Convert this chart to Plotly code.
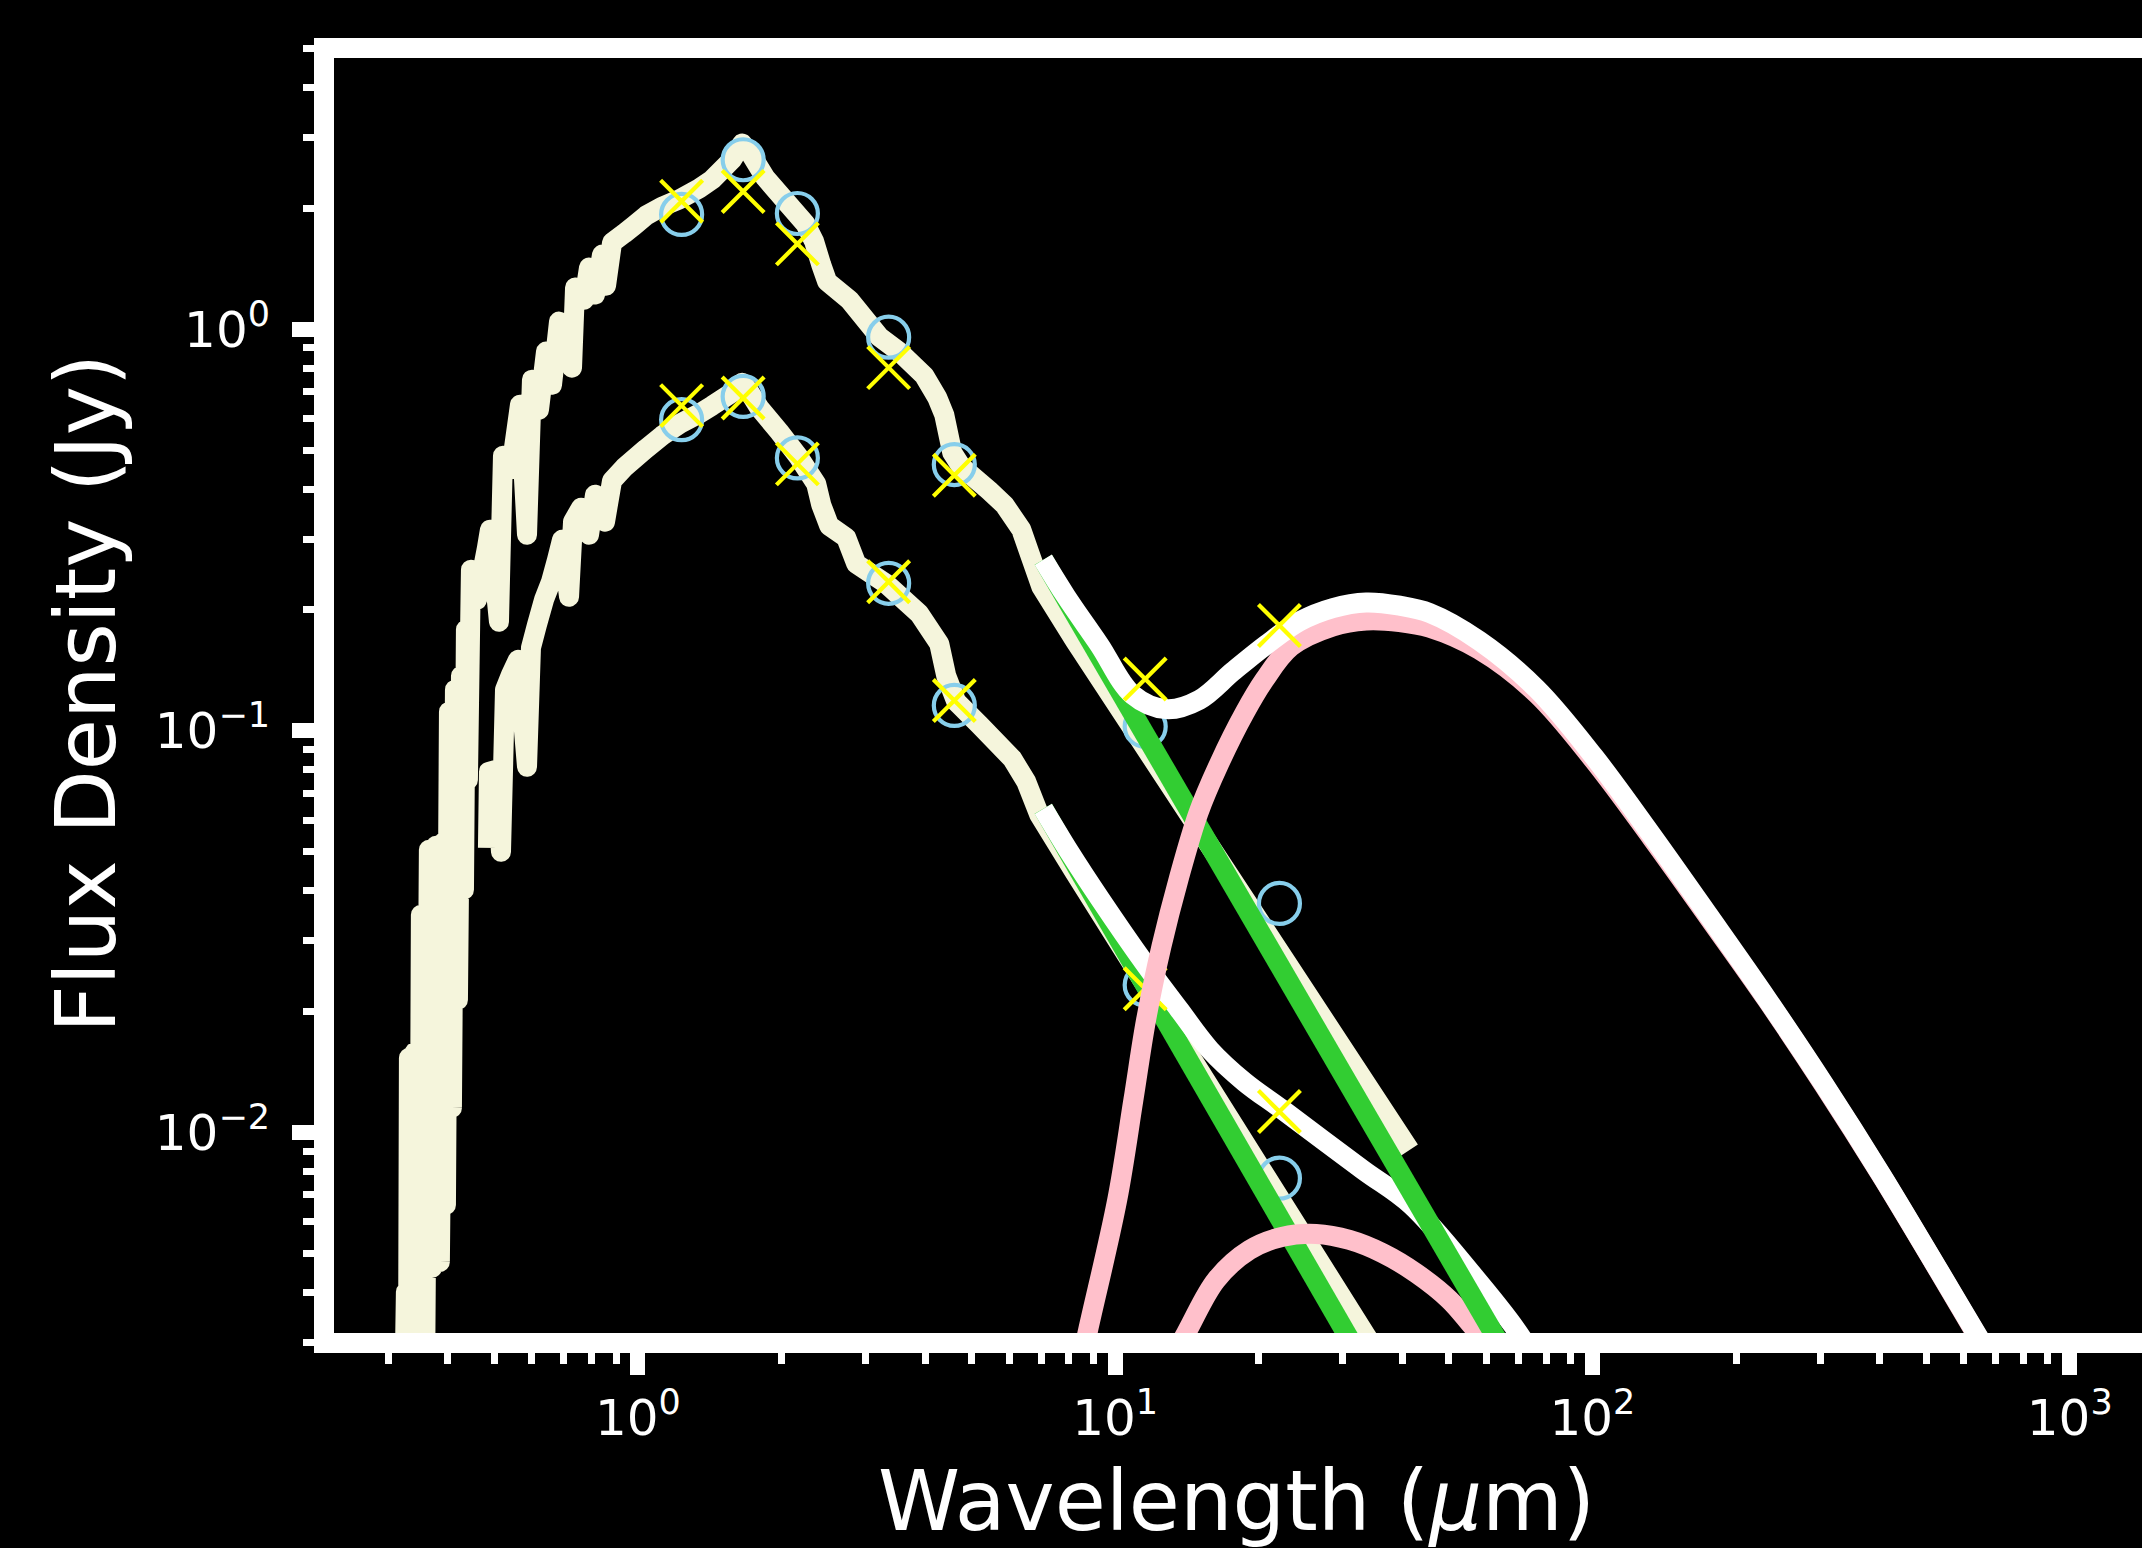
import numpy as np
import plotly.graph_objects as go

# ---------------- data (wavelength in micron, flux density in Jy) ----------------
# photometric bands: 2MASS J, H, Ks and WISE W1..W4
band_wl = [1.235, 1.662, 2.159, 3.353, 4.603, 11.56, 22.09]

# upper source
up_obs = [1.93, 2.64, 1.94, 0.955, 0.46, 0.1026, 0.0372]
up_mod = [2.08, 2.20, 1.63, 0.802, 0.433, 0.1346, 0.183]
# lower source
lo_obs = [0.595, 0.68, 0.478, 0.233, 0.1157, 0.0233, 0.0077]
lo_mod = [0.645, 0.674, 0.462, 0.235, 0.119, 0.0228, 0.01128]

# stellar model spectra
up_spec_wl = [0.3235, 0.3266, 0.3298, 0.3314, 0.3362, 0.3411, 0.3478, 0.3511, 0.3580, 0.3649,
              0.3703, 0.3775, 0.3848, 0.3924, 0.3962, 0.4020, 0.4078, 0.4138, 0.4198, 0.4260,
              0.4322, 0.4363, 0.4405, 0.4470, 0.4602, 0.4829, 0.4899, 0.5117, 0.5217,
              0.5370, 0.5502, 0.5663, 0.5858, 0.6000, 0.6207, 0.6420, 0.6609, 0.6836, 0.7037,
              0.7279, 0.7386, 0.7714, 0.7901, 0.8133, 0.8413, 0.8577, 0.8829, 0.9355, 0.9818,
              1.0404, 1.1239, 1.2201, 1.3438, 1.4307, 1.5757, 1.6537, 1.7271, 1.8479, 2.0352,
              2.2415, 2.3412, 2.4216, 2.4929, 2.7723, 3.2036, 3.5285, 3.9811, 4.2386, 4.3843,
              4.5571, 4.7596, 5.4491, 5.8583, 6.3603, 6.6110, 7.0027, 8.2124, 41.38]
up_spec_f = [0.001926, 0.004012, 0.002160, 0.01535, 0.002160, 0.01588, 0.002160, 0.03484, 0.002160, 0.05058,
             0.004603, 0.05176, 0.004766, 0.05295, 0.006607, 0.1116, 0.01152, 0.1266, 0.02140, 0.1371,
             0.04022, 0.1786, 0.07553, 0.2519, 0.2121, 0.2858, 0.3168, 0.1869, 0.4842,
             0.4468, 0.5069, 0.6486, 0.3078, 0.7486, 0.6303, 0.8790, 0.7274, 1.044, 0.9416,
             0.8018, 1.269, 1.184, 1.423, 1.219, 1.533, 1.283, 1.642, 1.729, 1.810,
             1.917, 2.018, 2.101, 2.238, 2.356, 2.643, 2.897, 2.720, 2.384, 2.089,
             1.831, 1.652, 1.447, 1.313, 1.184, 0.9579, 0.8790, 0.7660, 0.6752, 0.6124,
             0.4926, 0.4546, 0.3962, 0.3656, 0.3168, 0.2777, 0.2285, 0.1686, 0.009056]

lo_spec_wl = [0.4852, 0.4876, 0.5044, 0.5167, 0.5268, 0.5422, 0.5609, 0.5858, 0.5971, 0.6147,
              0.6359, 0.6578, 0.6771, 0.6936, 0.7175, 0.7314, 0.7603, 0.7901, 0.8133, 0.8535,
              0.8829, 0.9355, 1.0404, 1.1239, 1.2260, 1.3438, 1.4307, 1.5757, 1.6537, 1.7105,
              1.7952, 1.9771, 2.1774, 2.3636, 2.4216, 2.5169, 2.7321, 2.8673, 3.3139, 3.8868,
              4.2799, 4.4271, 4.6461, 5.1923, 6.0885, 6.5143, 6.9355, 8.2124, 41.39]
lo_spec_f = [0.05117, 0.07910, 0.08001, 0.05000, 0.1266, 0.1379, 0.1503, 0.08140, 0.1610, 0.1837,
             0.2121, 0.2351, 0.2667, 0.2991, 0.2157, 0.3316, 0.3594, 0.3078, 0.3872, 0.3316,
             0.4195, 0.4520, 0.5040, 0.5430, 0.5817, 0.6160, 0.6449, 0.6948, 0.7358, 0.6988,
             0.6376, 0.5556, 0.4787, 0.4124, 0.3656, 0.3241, 0.3026, 0.2607, 0.2324, 0.1957,
             0.1648, 0.1371, 0.1182, 0.1036, 0.08522, 0.07469, 0.06181, 0.04458, 0.002099]

# Rayleigh-Jeans photosphere extensions
up_rj_wl = [7.071, 86.17]
up_rj_f = [0.2667, 0.001621]
lo_rj_wl = [7.071, 42.19]
lo_rj_f = [0.06397, 0.001621]

# dust blackbody components
up_dust_wl = [7.967, 8.778, 10.10, 10.92, 11.61, 12.50, 13.57, 14.94, 16.54, 18.66, 20.55, 23.38,
              28.58, 33.57, 39.43, 45.59, 57.90, 76.38, 100.8, 133.0, 175.4, 231.5, 305.3,
              402.9, 531.7, 636.4, 786.4]
up_dust_f = [0.001926, 0.003227, 0.006799, 0.01206, 0.01908, 0.02905, 0.04258, 0.06243, 0.08314,
             0.1107, 0.1340, 0.1622, 0.1820, 0.1883, 0.1866, 0.1806, 0.1592, 0.1237, 0.08425,
             0.05418, 0.03424, 0.02149, 0.01314, 0.00782, 0.00452, 0.00315, 0.00206]
lo_dust_wl = [11.80, 14.08, 16.28, 19.11, 22.45, 26.38, 30.97, 36.37, 42.74, 50.19, 56.16, 66.01]
lo_dust_f = [0.00216, 0.003166, 0.004297, 0.005104, 0.005508, 0.005594, 0.005405, 0.005008,
             0.004466, 0.003833, 0.003288, 0.00264]

# total (photosphere + dust)
up_tot_wl = [7.071, 7.890, 9.266, 10.88, 12.79, 15.01, 17.64, 20.72, 24.33, 28.58, 33.57, 39.43,
             45.59, 57.90, 76.38, 100.8, 133.0, 175.4, 231.5, 305.3, 402.9, 531.7, 636.4, 786.4]
up_tot_f = [0.2667, 0.2162, 0.1638, 0.1230, 0.1133, 0.1195, 0.1405, 0.1638, 0.1873, 0.2022,
            0.2088, 0.2049, 0.1965, 0.1676, 0.1273, 0.0862, 0.0551, 0.03464, 0.02162, 0.01322,
            0.00786, 0.00454, 0.00317, 0.00208]
lo_tot_wl = [7.071, 8.017, 9.328, 11.51, 13.63, 15.80, 18.66, 22.44, 33.07, 41.67, 56.52, 69.23, 79.39]
lo_tot_f = [0.06397, 0.04999, 0.03797, 0.02646, 0.02021, 0.01607, 0.01337, 0.01139, 0.008073,
            0.006607, 0.004379, 0.003227, 0.002493]

# axis ticks
x_major = [1, 10, 100, 1000]
x_major_text = ["10<sup>0</sup>", "10<sup>1</sup>", "10<sup>2</sup>", "10<sup>3</sup>"]
y_major = [0.01, 0.1, 1]
y_major_text = ["10<sup>\u22122</sup>", "10<sup>\u22121</sup>", "10<sup>0</sup>"]
x_minor = [0.3, 0.4, 0.5, 0.6, 0.7, 0.8, 0.9, 2, 3, 4, 5, 6, 7, 8, 9,
           20, 30, 40, 50, 60, 70, 80, 90, 200, 300, 400, 500, 600, 700, 800, 900]
y_minor = [0.003, 0.004, 0.005, 0.006, 0.007, 0.008, 0.009, 0.02, 0.03, 0.04, 0.05, 0.06,
           0.07, 0.08, 0.09, 0.2, 0.3, 0.4, 0.5, 0.6, 0.7, 0.8, 0.9, 2, 3, 4, 5]

# ---------------- styling ----------------
BEIGE = "#F5F5DC"
GREEN = "#32CD32"
PINK = "#FFC0CB"
WHITE = "#FFFFFF"
SKY = "#87CEEB"
YELLOW = "#FFFF00"
LW = 20
FONT = "DejaVu Sans"

W, H = 2142, 1548
ML, MT, MB = 324, 48, 205

fig = go.Figure()


def add_source(spec_wl, spec_f, obs, rj_wl, rj_f, dust_wl, dust_f, tot_wl, tot_f, mod):
    fig.add_trace(go.Scatter(x=spec_wl, y=spec_f, mode="lines",
                             line=dict(color=BEIGE, width=LW, simplify=False)))
    fig.add_trace(go.Scatter(x=band_wl, y=obs, mode="markers",
                             marker=dict(symbol="circle-open", size=41, color=SKY,
                                         line=dict(color=SKY, width=4.2))))
    fig.add_trace(go.Scatter(x=rj_wl, y=rj_f, mode="lines",
                             line=dict(color=GREEN, width=LW, simplify=False)))
    fig.add_trace(go.Scatter(x=dust_wl, y=dust_f, mode="lines",
                             line=dict(color=PINK, width=LW, shape="spline",
                                       smoothing=1.0, simplify=False)))
    fig.add_trace(go.Scatter(x=tot_wl, y=tot_f, mode="lines",
                             line=dict(color=WHITE, width=LW, shape="spline",
                                       smoothing=1.0, simplify=False)))
    fig.add_trace(go.Scatter(x=band_wl, y=mod, mode="markers",
                             marker=dict(symbol="x-thin-open", size=42, color=YELLOW,
                                         line=dict(color=YELLOW, width=4.2))))


add_source(lo_spec_wl, lo_spec_f, lo_obs, lo_rj_wl, lo_rj_f, lo_dust_wl, lo_dust_f,
           lo_tot_wl, lo_tot_f, lo_mod)
add_source(up_spec_wl, up_spec_f, up_obs, up_rj_wl, up_rj_f, up_dust_wl, up_dust_f,
           up_tot_wl, up_tot_f, up_mod)

plot_w = W - ML
plot_h = H - MT - MB


def px_x(X):
    return (X - ML) / plot_w


def px_y(Y):
    return (H - MB - Y) / plot_h


# spines (drawn above the data, like matplotlib)
sw = 10
shapes = [
    dict(type="rect", xref="paper", yref="paper", layer="above", line=dict(width=0),
         fillcolor=WHITE, x0=px_x(ML - sw), x1=px_x(ML + sw),
         y0=px_y(H - MB + sw), y1=px_y(MT - sw)),
    dict(type="rect", xref="paper", yref="paper", layer="above", line=dict(width=0),
         fillcolor=WHITE, x0=px_x(ML - sw), x1=1.01,
         y0=px_y(MT + sw), y1=px_y(MT - sw)),
    dict(type="rect", xref="paper", yref="paper", layer="above", line=dict(width=0),
         fillcolor=WHITE, x0=px_x(ML - sw), x1=1.01,
         y0=px_y(H - MB + sw), y1=px_y(H - MB - sw)),
]

annotations = [
    dict(text="Flux Density (Jy)", xref="paper", yref="paper", x=px_x(86), y=px_y(693),
         xanchor="center", yanchor="middle", textangle=-90, showarrow=False,
         font=dict(family=FONT, size=83, color=WHITE)),
    dict(text="Wavelength (<i>\u03bc</i>m)", xref="paper", yref="paper", x=px_x(1236),
         y=px_y(1501), xanchor="center", yanchor="middle", showarrow=False,
         font=dict(family=FONT, size=83, color=WHITE)),
]

fig.update_layout(
    width=W, height=H,
    margin=dict(l=ML, r=0, t=MT, b=MB, pad=0),
    paper_bgcolor="black", plot_bgcolor="black",
    showlegend=False,
    font=dict(family=FONT, color=WHITE),
    shapes=shapes, annotations=annotations,
)

fig.update_xaxes(
    type="log", range=[np.log10(0.22), 3.1514], showgrid=False, zeroline=False,
    showline=False, automargin=False,
    ticks="outside", ticklen=31, tickwidth=15, tickcolor=WHITE,
    tickmode="array", tickvals=x_major, ticktext=x_major_text,
    tickfont=dict(family=FONT, size=50, color=WHITE),
    minor=dict(tickmode="array", tickvals=x_minor, ticks="outside", ticklen=20,
               tickwidth=6.5, tickcolor=WHITE, showgrid=False),
)
fig.update_yaxes(
    type="log", range=[np.log10(0.003) - 0.0008, np.log10(5) + 0.0008], showgrid=False,
    zeroline=False, showline=False, automargin=False,
    ticks="outside", ticklen=31, tickwidth=15, tickcolor=WHITE,
    tickmode="array", tickvals=y_major, ticktext=y_major_text,
    tickfont=dict(family=FONT, size=50, color=WHITE), ticklabelstandoff=12,
    minor=dict(tickmode="array", tickvals=y_minor, ticks="outside", ticklen=20,
               tickwidth=6.5, tickcolor=WHITE, showgrid=False),
)

# matplotlib draws line joins rounded
round_joins = (
    "var st=document.createElement('style');"
    "st.innerHTML='.js-line{stroke-linejoin:round !important;}';"
    "document.head.appendChild(st);"
)

fig.write_html("out.html", config={"displayModeBar": False}, post_script=round_joins)
